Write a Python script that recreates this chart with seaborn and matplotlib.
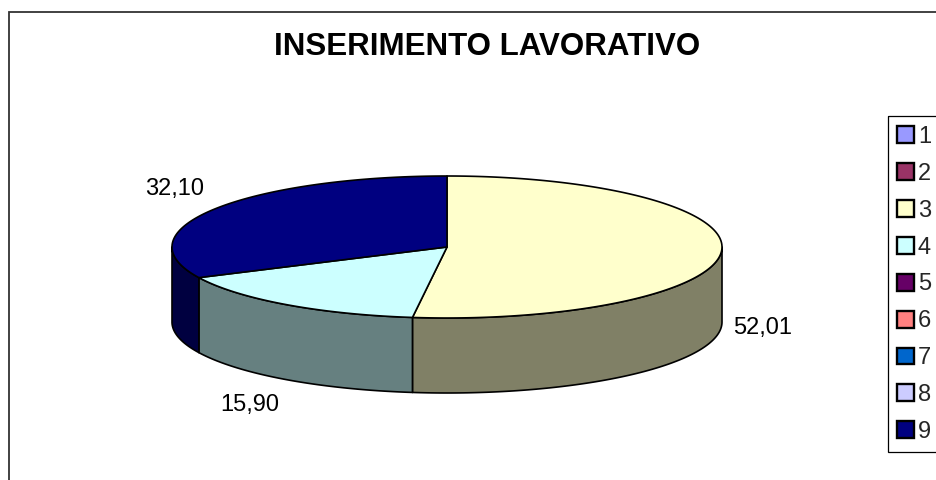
import numpy as np
import matplotlib
matplotlib.use("Agg")
import matplotlib.pyplot as plt
import seaborn as sns
from matplotlib.patches import Polygon, Patch, Rectangle

# ---- data ----
categories = ["1", "2", "3", "4", "5", "6", "7", "8", "9"]
values = [0.0, 0.0, 52.01, 15.90, 0.0, 0.0, 0.0, 0.0, 32.10]
value_labels = ["", "", "52,01", "15,90", "", "", "", "", "32,10"]
colors = ["#9999FF", "#993366", "#FFFFCC", "#CCFFFF", "#660066",
          "#FF8080", "#0066CC", "#CCCCFF", "#000080"]
title = "INSERIMENTO LAVORATIVO"

sns.set_theme(style="white")
plt.rcParams['font.family'] = ['Liberation Sans', 'DejaVu Sans']
palette = sns.color_palette(colors)

W, H = 936, 480
fig = plt.figure(figsize=(W / 100, H / 100), dpi=100)
fig.patch.set_facecolor("white")
ax = fig.add_axes([0, 0, 1, 1])
ax.set_xlim(0, W)
ax.set_ylim(H, 0)
ax.axis("off")

# pie geometry (pixels)
cx, cy, rx, ry, depth = 447, 247, 275, 71, 75
start = 90.0
lw = 1.2


def pt(t, dy=0.0):
    r = np.radians(t)
    return cx + rx * np.cos(r), cy - ry * np.sin(r) + dy


total = sum(values)
angles = []
a = start
for v in values:
    span = 360.0 * v / total
    angles.append((a, a - span))
    a -= span

# sides first
for (t1, t2), v, c in zip(angles, values, palette):
    if v <= 0:
        continue
    lo, hi = max(t2, -180.0), min(t1, 0.0)
    if lo >= hi:
        continue
    ts = np.linspace(hi, lo, 120)
    top = [pt(t) for t in ts]
    bot = [pt(t, depth) for t in ts[::-1]]
    side_col = tuple(np.array(c) * 0.5)
    ax.add_patch(Polygon(top + bot, closed=True, facecolor=side_col,
                         edgecolor="black", linewidth=lw, joinstyle="round"))

# top faces
for (t1, t2), v, c in zip(angles, values, palette):
    if v <= 0:
        continue
    ts = np.linspace(t1, t2, 200)
    verts = [(cx, cy)] + [pt(t) for t in ts]
    ax.add_patch(Polygon(verts, closed=True, facecolor=c,
                         edgecolor="black", linewidth=lw, joinstyle="round"))

# data labels
for (t1, t2), v, lab in zip(angles, values, value_labels):
    if v <= 0:
        continue
    m = np.radians((t1 + t2) / 2)
    x = cx + (rx + 12) * np.cos(m)
    s = np.sin(m)
    y = cy - (ry + 18) * s + (depth if s < 0 else 0)
    ha = "left" if np.cos(m) > 0 else "right"
    va = "bottom" if s > 0.3 else ("top" if s < -0.3 else "center")
    ax.text(x, y, lab, ha=ha, va=va, fontsize=17, color="black")

# title
fig.text(487 / W, 1 - 47 / H, title, ha="center", va="center",
         fontsize=22.5, fontweight="bold", color="black")

# outer chart frame
fig.patches.append(Rectangle((9 / W, -0.1), 1.2, 1.1 - 12 / H,
                             transform=fig.transFigure, fill=False,
                             edgecolor="#333333", linewidth=1.3))

# legend frame (runs off the right edge as in the original)
ax.add_patch(Rectangle((888, 116), 100, 336, fill=False,
                       edgecolor="black", linewidth=0.9, clip_on=False))

# legend entries
handles = [Patch(facecolor=c, edgecolor="black", linewidth=1.7) for c in palette]
leg = fig.legend(handles, categories, loc="upper left",
                 bbox_to_anchor=(897 / W, 1 - 126 / H),
                 bbox_transform=fig.transFigure, borderaxespad=0,
                 fontsize=17, handlelength=0.72, handleheight=0.72,
                 handletextpad=0.16, labelspacing=0.63, borderpad=0,
                 frameon=False)

fig.savefig("out.png", dpi=100, facecolor="white")
